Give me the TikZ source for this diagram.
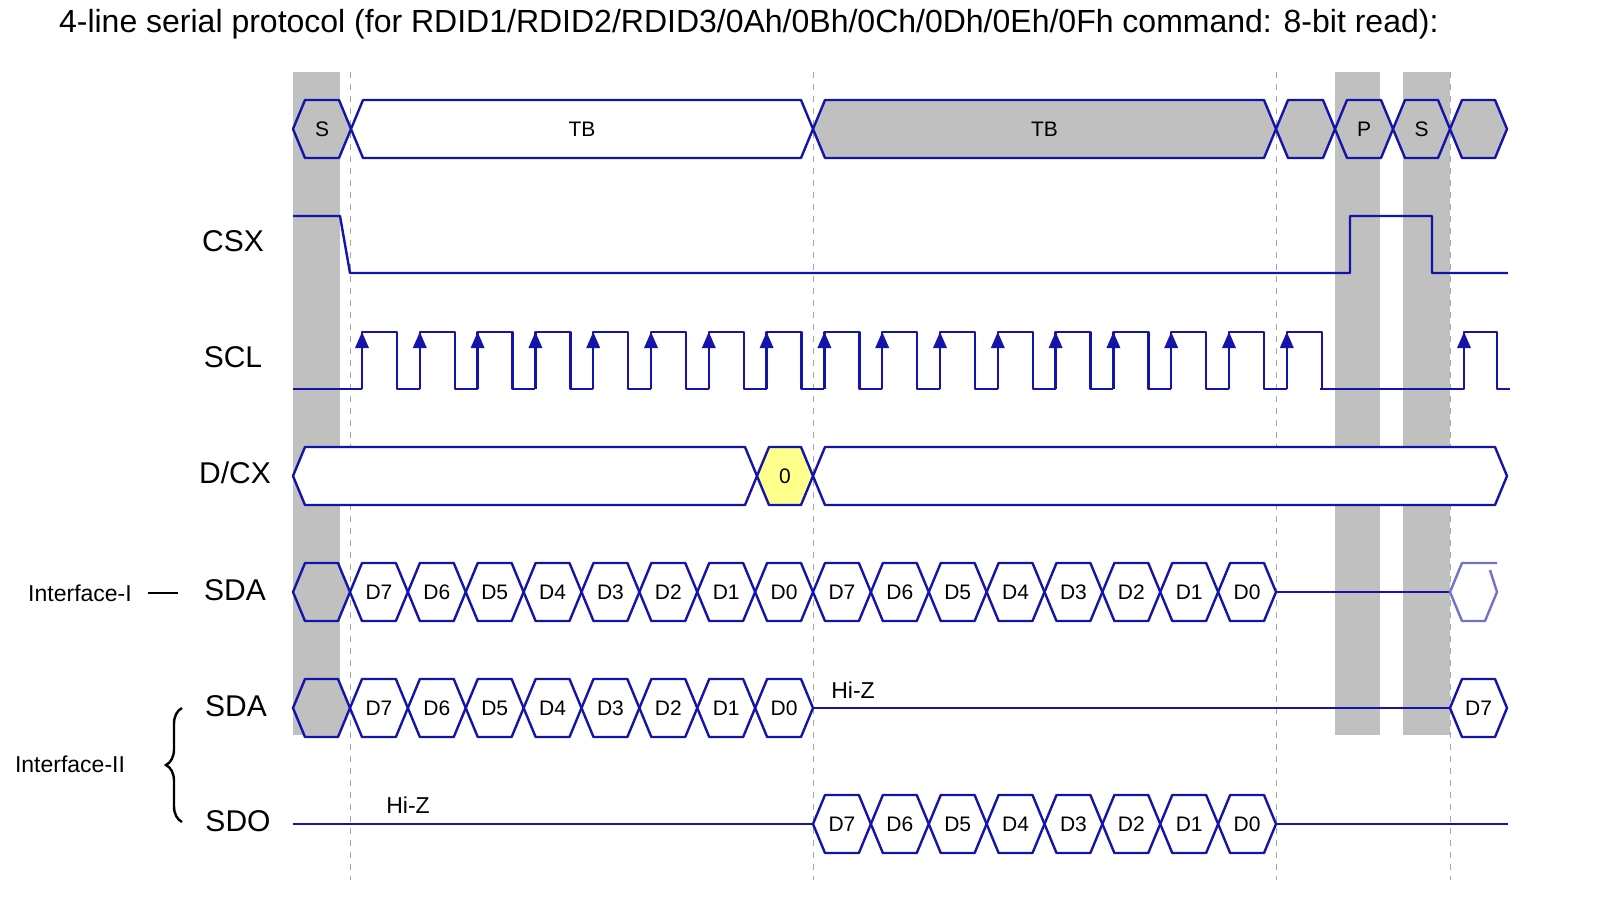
\documentclass[tikz,border=0pt]{standalone}
\usepackage{fontspec}
\setmainfont{Liberation Sans}
\usetikzlibrary{positioning,arrows.meta,decorations.pathreplacing}
\definecolor{sig}{RGB}{20,20,170}
\definecolor{band}{RGB}{192,192,192}
\definecolor{hl}{RGB}{255,255,140}
\tikzset{
  wave/.style={draw=sig,line width=1.2pt,line join=round},
  grid/.style={draw=gray!70,dashed,line width=0.4pt},
  signame/.style={font=\fontsize{15}{17}\selectfont},
  bit/.style={font=\fontsize{10.5}{12}\selectfont},
}
% hexagon cell: x1, x2, centre y, label, fill
\newcommand{\hexcell}[5]{%
  \draw[wave,fill=#5] (#1,#3) -- (#1+12,#3-29) -- (#2-12,#3-29) -- (#2,#3)
    -- (#2-12,#3+29) -- (#1+12,#3+29) -- cycle;
  \node[bit] at ({(#1+#2)/2},#3) {#4};}
\begin{document}
\begin{tikzpicture}[x=0.5pt,y=-0.5pt]
                \useasboundingbox (0,0) rectangle (1600,896);
                \node[anchor=west,font=\fontsize{16}{18}\selectfont] (title) at (52,24)
                  {4-line serial protocol (for RDID1/RDID2/RDID3/0Ah/0Bh/0Ch/0Dh/0Eh/0Fh command: 8-bit read):};
                % bands and grid
                \fill[band] (293,72) rectangle (340,735);
                \fill[band] (1335,72) rectangle (1380,735);
                \fill[band] (1403,72) rectangle (1450,735);
                \foreach \gx in {350,813,1276,1450}
                  \draw[grid] (\gx,72) -- (\gx,880);
                % signal names
                \node[signame] (csx) at (233,241) {CSX};
                \node[signame] (scl) at (233,357) {SCL};
                \node[signame] (dcx) at (235,473) {D/CX};
                \node[signame] (sda1) at (235,590) {SDA};
                \node[signame] (sda2) at (236,706) {SDA};
                \node[signame] (sdo) at (238,821) {SDO};
                \node[font=\fontsize{11.5}{13}\selectfont] (if1) at (80,593) {Interface-I};
                \draw[line width=1.2pt] (148,593) -- (178,593);
                \node[font=\fontsize{11.5}{13}\selectfont] (if2) at (70,764) {Interface-II};
                \draw[line width=1.2pt,decorate,decoration={brace,amplitude=8pt}]
                  (182,822) -- (182,708);
                % state row
                \hexcell{293}{351}{129}{S}{band}
                \hexcell{351}{813}{129}{TB}{white}
                \hexcell{813}{1276}{129}{TB}{band}
                \hexcell{1276}{1335}{129}{}{band}
                \hexcell{1335}{1393}{129}{P}{band}
                \hexcell{1393}{1450}{129}{S}{band}
                \hexcell{1450}{1507}{129}{}{band}
                % CSX
                \draw[wave] (293,216) -- (340,216) -- (350,273) -- (1350,273) -- (1350,216)
                  -- (1432,216) -- (1432,273) -- (1508,273);
                % SCL
                \draw[wave] (293,389) -- (362,389);
                \foreach \i in {0,...,16}{
                  \pgfmathsetmacro{\rx}{362+57.8*\i}
                  \draw[wave] (\rx,389) -- (\rx,332) -- (\rx+35,332) -- (\rx+35,389) -- (\rx+57.8,389);
                  \fill[sig] (\rx-7,348) -- (\rx,332) -- (\rx+7,348) -- cycle;}
                \draw[wave] (1320,389) -- (1464,389) -- (1464,332) -- (1497,332) -- (1497,389) -- (1510,389);
                \fill[sig] (1457,348) -- (1464,332) -- (1471,348) -- cycle;
                % D/CX
                \hexcell{293}{757}{476}{}{white}
                \hexcell{757}{813}{476}{0}{hl}
                \hexcell{813}{1507}{476}{}{white}
                % SDA interface-I
                \hexcell{293}{350}{592}{}{band}
                \foreach \i/\b in {0/7,1/6,2/5,3/4,4/3,5/2,6/1,7/0,8/7,9/6,10/5,11/4,12/3,13/2,14/1,15/0}{
                  \pgfmathsetmacro{\ca}{350+57.875*\i}
                  \pgfmathsetmacro{\cb}{350+57.875*(\i+1)}
                  \hexcell{\ca}{\cb}{592}{D\b}{white}}
                \draw[wave] (1276,592) -- (1450,592);
                \draw[wave,draw=sig!60] (1497,563) -- (1462,563) -- (1450,592) -- (1462,621) -- (1485,621)
                  -- (1497,592) -- (1490,570);
                % SDA interface-II
                \hexcell{293}{350}{708}{}{band}
                \foreach \i/\b in {0/7,1/6,2/5,3/4,4/3,5/2,6/1,7/0}{
                  \pgfmathsetmacro{\ca}{350+57.875*\i}
                  \pgfmathsetmacro{\cb}{350+57.875*(\i+1)}
                  \hexcell{\ca}{\cb}{708}{D\b}{white}}
                \draw[wave] (813,708) -- (1450,708);
                \node[bit,font=\fontsize{11.5}{13}\selectfont] (hiz1) at (853,690) {Hi-Z};
                \hexcell{1450}{1507}{708}{D7}{white}
                % SDO
                \draw[wave] (293,824) -- (813,824);
                \node[bit,font=\fontsize{11.5}{13}\selectfont] (hiz2) at (408,805) {Hi-Z};
                \foreach \i/\b in {0/7,1/6,2/5,3/4,4/3,5/2,6/1,7/0}{
                  \pgfmathsetmacro{\ca}{813+57.875*\i}
                  \pgfmathsetmacro{\cb}{813+57.875*(\i+1)}
                  \hexcell{\ca}{\cb}{824}{D\b}{white}}
                \draw[wave] (1276,824) -- (1508,824);
            \end{tikzpicture}
\end{document}
